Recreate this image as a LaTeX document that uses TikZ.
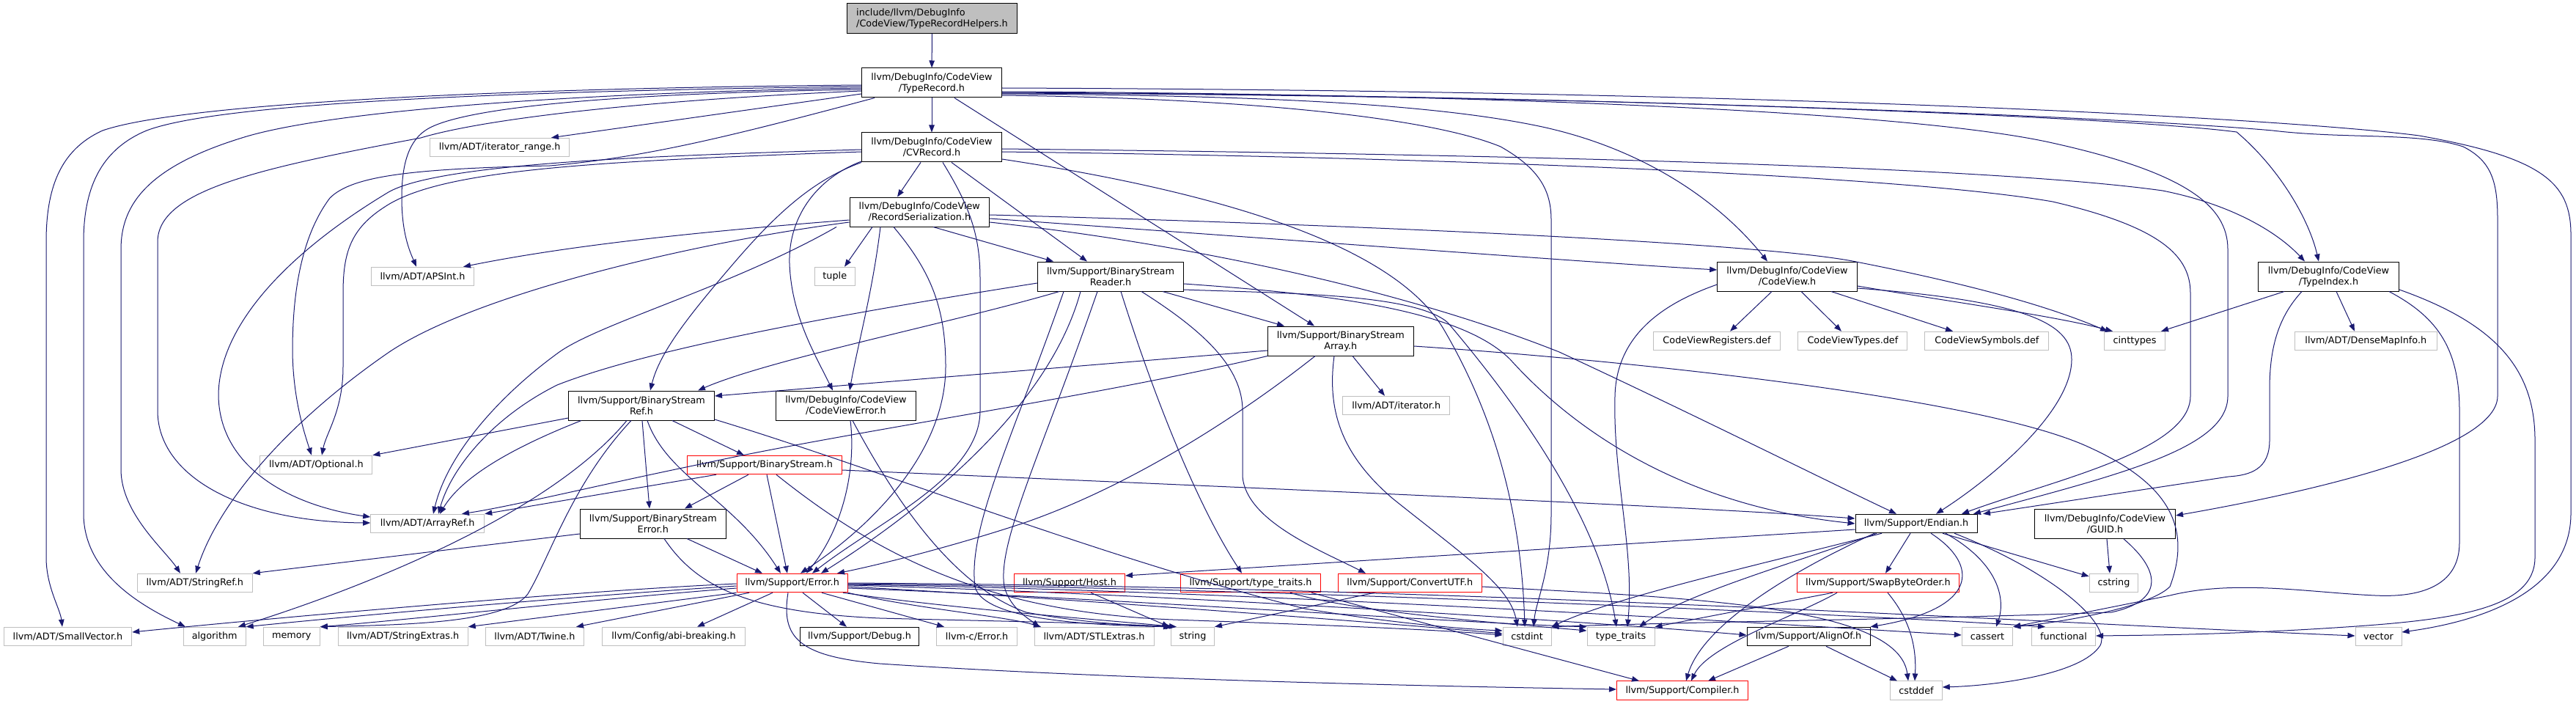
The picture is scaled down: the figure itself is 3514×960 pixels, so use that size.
\documentclass[tikz,border=0pt]{standalone}
\usepackage{fontspec}
\setmainfont{DejaVu Sans}
\usetikzlibrary{arrows.meta}
\definecolor{edgecol}{HTML}{191970}
\definecolor{grayb}{HTML}{BFBFBF}
\begin{document}
\begin{tikzpicture}[x=1pt,y=-1pt,
  nd/.style={draw=black, line width=1pt, fill=white, inner sep=0pt, align=center, font=\fontsize{12.8}{15}\selectfont},
  gn/.style={nd, draw=grayb},
  rn/.style={nd, draw=red},
  two/.style={minimum height=40},
  one/.style={minimum height=25.5},
  edg/.style={draw=edgecol, line width=1pt, -{Triangle[length=10pt,width=7.5pt]}},
]
\fill[white] (0,0) rectangle (3514,960);
\useasboundingbox (0,0) rectangle (3514,960);

% ---------- nodes ----------
\node[nd, fill=grayb, align=left, minimum width=232, minimum height=40.6] (top) at (1271.5,25) {include/llvm/DebugInfo\\/CodeView/TypeRecordHelpers.h};
\node[nd, two, minimum width=191] (TR) at (1271,113) {llvm/DebugInfo/CodeView\\/TypeRecord.h};
\node[nd, two, minimum width=191] (CVR) at (1271,201) {llvm/DebugInfo/CodeView\\/CVRecord.h};
\node[nd, two, minimum width=190.6] (RS) at (1254.3,289) {llvm/DebugInfo/CodeView\\/RecordSerialization.h};
\node[gn, one, minimum width=55] (tuple) at (1138.8,377) {tuple};
\node[nd, two, minimum width=199] (BSR) at (1515,377) {llvm/Support/BinaryStream\\Reader.h};
\node[nd, two, minimum width=199] (BSA) at (1828.8,465) {llvm/Support/BinaryStream\\Array.h};
\node[nd, two, minimum width=190.6] (CV) at (2438,377) {llvm/DebugInfo/CodeView\\/CodeView.h};
\node[gn, one, minimum width=173] (CVReg) at (2342,465) {CodeViewRegisters.def};
\node[gn, one, minimum width=149] (CVTyp) at (2527.4,465) {CodeViewTypes.def};
\node[gn, one, minimum width=169] (CVSym) at (2710.4,465) {CodeViewSymbols.def};
\node[gn, one, minimum width=83] (cint) at (2912,465) {cinttypes};
\node[nd, two, minimum width=192] (TI) at (3176.5,377) {llvm/DebugInfo/CodeView\\/TypeIndex.h};
\node[gn, one, minimum width=194] (DMI) at (3227.3,465) {llvm/ADT/DenseMapInfo.h};
\node[gn, one, minimum width=190] (itr) at (681.6,201) {llvm/ADT/iterator\_range.h};
\node[gn, one, minimum width=139.5] (APS) at (576.5,377) {llvm/ADT/APSInt.h};
\node[gn, one, minimum width=153] (Opt) at (431.4,634) {llvm/ADT/Optional.h};
\node[gn, one, minimum width=155] (AR) at (583.2,714) {llvm/ADT/ArrayRef.h};
\node[gn, one, minimum width=157] (SR) at (265.8,795) {llvm/ADT/StringRef.h};
\node[gn, one, minimum width=174.5] (SV) at (92.5,868) {llvm/ADT/SmallVector.h};
\node[gn, one, minimum width=85] (algo) at (292.7,868) {algorithm};
\node[gn, one, minimum width=77] (mem) at (397.8,868) {memory};
\node[gn, one, minimum width=177] (SE) at (549.7,868) {llvm/ADT/StringExtras.h};
\node[gn, one, minimum width=134] (Tw) at (729.5,868) {llvm/ADT/Twine.h};
\node[gn, one, minimum width=195] (abi) at (919,868) {llvm/Config/abi-breaking.h};
\node[nd, two, minimum width=199] (BSRef) at (875,553) {llvm/Support/BinaryStream\\Ref.h};
\node[nd, two, minimum width=199] (BSE) at (890.8,714) {llvm/Support/BinaryStream\\Error.h};
\node[nd, two, minimum width=191] (CVE) at (1154,553) {llvm/DebugInfo/CodeView\\/CodeViewError.h};
\node[rn, one, minimum width=211] (BS) at (1043,634) {llvm/Support/BinaryStream.h};
\node[rn, one, minimum width=151] (Err) at (1080.6,795) {llvm/Support/Error.h};
\node[rn, one, minimum width=151] (Host) at (1459,795) {llvm/Support/Host.h};
\node[rn, one, minimum width=190.6] (ttH) at (1706,795) {llvm/Support/type\_traits.h};
\node[nd, one, minimum width=162.5] (Dbg) at (1172.5,868) {llvm/Support/Debug.h};
\node[gn, one, minimum width=110] (cErr) at (1332.6,868) {llvm-c/Error.h};
\node[gn, one, minimum width=163] (STL) at (1492.5,868) {llvm/ADT/STLExtras.h};
\node[gn, one, minimum width=59] (str) at (1627,868) {string};
\node[gn, one, minimum width=146] (iter) at (1904.7,553) {llvm/ADT/iterator.h};
\node[nd, one, minimum width=166] (End) at (2614,714) {llvm/Support/Endian.h};
\node[rn, one, minimum width=196] (CUTF) at (1923.3,795) {llvm/Support/ConvertUTF.h};
\node[rn, one, minimum width=221] (SBO) at (2562,795) {llvm/Support/SwapByteOrder.h};
\node[gn, one, minimum width=66] (cstdint) at (2083,868) {cstdint};
\node[gn, one, minimum width=92] (tt) at (2211,868) {type\_traits};
\node[nd, one, minimum width=168] (Align) at (2467,868) {llvm/Support/AlignOf.h};
\node[gn, one, minimum width=69.5] (cas) at (2711,868) {cassert};
\node[rn, one, minimum width=179] (Comp) at (2295,941.7) {llvm/Support/Compiler.h};
\node[gn, one, minimum width=70.5] (cdef) at (2614,941.7) {cstddef};
\node[nd, two, minimum width=192] (GUID) at (2871.5,714.5) {llvm/DebugInfo/CodeView\\/GUID.h};
\node[gn, one, minimum width=66.6] (cstr) at (2883.5,795) {cstring};
\node[gn, one, minimum width=87] (func) at (2815,868) {functional};
\node[gn, one, minimum width=63] (vec) at (3244.5,868) {vector};

% ---------- edges ----------
\draw[edg] (top) -- (TR);
% TypeRecord.h
\draw[edg] (TR) -- (CVR);
\draw[edg] (TR.west |- 0,116) .. controls (700,120) and (250,140) .. (140,178) .. controls (80,205) and (63,260) .. (63,330) -- (63,760) .. controls (63,800) and (82,830) .. (SV.north -| 85,0);
\draw[edg] (TR.west |- 0,118) .. controls (700,124) and (300,140) .. (200,178) .. controls (135,205) and (114,260) .. (114,330) -- (114,700) .. controls (114,780) and (190,825) .. (algo.north -| 253,0);
\draw[edg] (TR.west |- 0,120) .. controls (800,126) and (450,150) .. (330,188) .. controls (200,228) and (165,280) .. (165,340) -- (165,640) .. controls (165,700) and (225,750) .. (SR.north -| 246,0);
\draw[edg] (TR.west |- 0,124) .. controls (850,138) and (650,165) .. (574,188) .. controls (350,230) and (215,260) .. (215,330) -- (215,560) .. controls (215,650) and (330,712) .. (AR.west |- 0,713);
\draw[edg] (TR.west |- 0,122) .. controls (800,128) and (620,150) .. (580,178) .. controls (555,195) and (548,230) .. (548,270) .. controls (548,320) and (560,345) .. (APS.north -| 568,0);
\draw[edg] (TR.west |- 0,128) -- (itr.north -| 752,0);
\draw[edg] (TR.south -| 1193,0) .. controls (1000,185) and (880,215) .. (750,226) .. controls (560,230) and (480,240) .. (450,270) .. controls (405,330) and (399,420) .. (399,480) .. controls (400,545) and (415,590) .. (Opt.north -| 425,0);
\draw[edg] (TR.east |- 0,128) .. controls (1700,130) and (1950,140) .. (2104,173) .. controls (2250,205) and (2350,280) .. (CV.north -| 2411,0);
\draw[edg] (TR.east |- 0,130) .. controls (1700,134) and (1950,160) .. (2047,200) .. controls (2100,230) and (2116,260) .. (2116,300) -- (2116,700) .. controls (2116,780) and (2095,820) .. (cstdint.north -| 2092,0);
\draw[edg] (TR.south -| 1302,0) -- (BSA.north -| 1793,0);
\draw[edg] (TR.east |- 0,125) .. controls (2000,128) and (2600,150) .. (2800,195) .. controls (2980,235) and (3039,280) .. (3039,340) -- (3039,540) .. controls (3039,610) and (2900,645) .. (End.north -| 2692,0);
\draw[edg] (TR.east |- 0,126) .. controls (2200,130) and (2900,160) .. (3051,180) .. controls (3110,230) and (3150,300) .. (TI.north -| 3163,0);
\draw[edg] (TR.east |- 0,127) .. controls (2200,130) and (2900,160) .. (3100,178) .. controls (3200,190) and (3300,180) .. (3360,200) .. controls (3400,220) and (3407,250) .. (3407,300) -- (3407,540) .. controls (3407,620) and (3100,680) .. (GUID.east |- 0,703);
\draw[edg] (TR.east |- 0,120) .. controls (2500,124) and (3150,165) .. (3300,185) .. controls (3470,215) and (3507,250) .. (3507,320) -- (3507,700) .. controls (3507,800) and (3400,845) .. (vec.east |- 0,862);
% CVRecord.h
\draw[edg] (CVR.south -| 1256,0) -- (RS.north -| 1224,0);
\draw[edg] (CVR.west |- 0,204) .. controls (900,212) and (600,222) .. (530,262) .. controls (400,340) and (298,440) .. (298,540) .. controls (300,640) and (400,690) .. (AR.west |- 0,705);
\draw[edg] (CVR.west |- 0,207) .. controls (800,220) and (600,232) .. (525,282) .. controls (478,312) and (468,345) .. (468,400) -- (468,500) .. controls (468,560) and (445,590) .. (Opt.north -| 439,0);
\draw[edg] (CVR.south west) .. controls (1110,245) and (1060,290) .. (1000,360) .. controls (940,430) and (900,480) .. (BSRef.north -| 887,0);
\draw[edg] (CVR.west |- 0,220) .. controls (1110,245) and (1075,300) .. (1077,360) .. controls (1080,430) and (1110,480) .. (CVE.north -| 1136,0);
\draw[edg] (CVR.south -| 1298,0) -- (BSR.north -| 1483,0);
\draw[edg] (CVR.south -| 1286,0) .. controls (1322,280) and (1337,320) .. (1337,380) -- (1337,560) .. controls (1337,650) and (1200,710) .. (Err.north -| 1108,0);
\draw[edg] (CVR.east |- 0,217) .. controls (1650,260) and (1900,330) .. (1970,450) .. controls (2040,570) and (2075,700) .. (cstdint.north -| 2080,0);
\draw[edg] (CVR.east |- 0,203) .. controls (2000,210) and (2700,225) .. (2950,260) .. controls (3050,280) and (3110,320) .. (TI.north -| 3144,0);
\draw[edg] (CVR.east |- 0,207) .. controls (2000,215) and (2600,240) .. (2800,275) .. controls (2950,310) and (2988,350) .. (2988,400) -- (2988,540) .. controls (2988,615) and (2800,655) .. (End.north -| 2676,0);
% RecordSerialization.h
\draw[edg] (RS.south -| 1190,0) -- (tuple.north -| 1152,0);
\draw[edg] (RS.south -| 1201,0) .. controls (1190,400) and (1170,470) .. (CVE.north -| 1159,0);
\draw[edg] (RS.south -| 1219,0) .. controls (1270,370) and (1290,420) .. (1290,500) .. controls (1290,610) and (1200,710) .. (Err.north -| 1092,0);
\draw[edg] (RS.south -| 1273,0) -- (BSR.north -| 1437,0);
\draw[edg] (RS.west |- 0,300) .. controls (900,320) and (750,340) .. (APS.north -| 632,0);
\draw[edg] (RS.west |- 0,303) .. controls (950,330) and (650,400) .. (531,480) .. controls (400,570) and (300,680) .. (SR.north -| 267,0);
\draw[edg] (RS.south -| 1141,0) .. controls (1000,390) and (820,440) .. (763,480) .. controls (680,540) and (610,620) .. (AR.north -| 591,0);
\draw[edg] (RS.east |- 0,293) .. controls (1800,305) and (2400,330) .. (2532,357) .. controls (2700,390) and (2800,420) .. (cint.north -| 2875,0);
\draw[edg] (RS.east |- 0,298) .. controls (1800,330) and (2200,360) .. (CV.west |- 0,368);
\draw[edg] (RS.east |- 0,303) .. controls (1600,330) and (1900,390) .. (2127,480) .. controls (2300,560) and (2500,660) .. (End.north -| 2587,0);
% CodeView.h
\draw[edg] (CV.south -| 2417,0) -- (CVReg.north -| 2360,0);
\draw[edg] (CV.south -| 2457,0) -- (CVTyp.north -| 2512,0);
\draw[edg] (CV.south -| 2498,0) -- (CVSym.north -| 2664,0);
\draw[edg] (CV.east |- 0,390) .. controls (2650,410) and (2800,430) .. (cint.north -| 2882,0);
\draw[edg] (CV.east |- 0,393) .. controls (2760,410) and (2826,440) .. (2826,490) .. controls (2826,560) and (2720,650) .. (End.north -| 2641,0);
\draw[edg] (CV.west |- 0,388) .. controls (2280,410) and (2205,450) .. (2203,540) .. controls (2200,650) and (2230,750) .. (tt.north -| 2220,0);
% TypeIndex.h
\draw[edg] (TI.south -| 3116,0) -- (cint.north -| 2948,0);
\draw[edg] (TI.south -| 3187,0) -- (DMI.north -| 3212,0);
\draw[edg] (TI.south -| 3140,0) .. controls (3110,430) and (3096,470) .. (3096,530) -- (3096,600) .. controls (3096,640) and (3070,648) .. (3040,650) -- (End.north -| 2705,0);
\draw[edg] (TI.south -| 3259,0) .. controls (3320,430) and (3355,470) .. (3355,560) -- (3355,740) .. controls (3355,800) and (3300,815) .. (3240,812) .. controls (3150,808) and (3050,790) .. (2960,812) -- (cas.north east);
\draw[edg] (TI.east |- 0,395) .. controls (3400,440) and (3458,500) .. (3458,600) -- (3458,760) .. controls (3458,830) and (3350,845) .. (3200,855) .. controls (3050,865) and (2950,866) .. (func.east |- 0,867);
% GUID.h
\draw[edg] (GUID.south -| 2874,0) -- (cstr.north -| 2878,0);
\draw[edg] (GUID.south -| 2897,0) .. controls (2950,780) and (2950,820) .. (2880,835) .. controls (2600,845) and (2300,848) .. (cstdint.north east);
% Endian.h
\draw[edg] (End.west |- 0,722) -- (Host.east |- 0,785);
\draw[edg] (End.south -| 2606,0) -- (SBO.north -| 2572,0);
\draw[edg] (End.south -| 2634,0) .. controls (2700,770) and (2700,830) .. (Align.north east);
\draw[edg] (End.south -| 2654,0) .. controls (2730,770) and (2735,820) .. (cas.north -| 2723,0);
\draw[edg] (End.south -| 2650,0) -- (cstr.west |- 0,786);
\draw[edg] (End.south -| 2666,0) .. controls (2800,780) and (2880,850) .. (2865,880) .. controls (2840,920) and (2720,935) .. (cdef.east |- 0,937);
\draw[edg] (End.south -| 2567,0) .. controls (2400,770) and (2200,815) .. (cstdint.north east);
\draw[edg] (End.south -| 2560,0) .. controls (2440,770) and (2300,810) .. (tt.north -| 2236,0);
\draw[edg] (End.south -| 2557,0) .. controls (2420,790) and (2320,860) .. (Comp.north -| 2300,0);
% SwapByteOrder.h
\draw[edg] (SBO.south -| 2506,0) .. controls (2450,840) and (2330,880) .. (Comp.north -| 2307,0);
\draw[edg] (SBO.south -| 2500,0) -- (tt.north east);
\draw[edg] (SBO.south -| 2575,0) .. controls (2610,850) and (2614,890) .. (cdef.north -| 2612,0);
% AlignOf.h
\draw[edg] (Align.south -| 2440,0) -- (Comp.north -| 2330,0);
\draw[edg] (Align.south -| 2491,0) -- (cdef.north -| 2588,0);
% type_traits.h
\draw[edg] (ttH.south -| 1789,0) -- (Comp.north -| 2236,0);
\draw[edg] (ttH.south -| 1760,0) .. controls (1850,835) and (2050,850) .. (tt.west |- 0,860);
% Host.h, ConvertUTF.h
\draw[edg] (Host.south -| 1488,0) -- (str.north -| 1595,0);
\draw[edg] (CUTF.south -| 1875,0) -- (str.north east);
\draw[edg] (CUTF.east |- 0,800) .. controls (2300,815) and (2590,825) .. (cdef.north -| 2603,0);
% BinaryStreamArray.h
\draw[edg] (BSA.south -| 1845,0) -- (iter.north -| 1889,0);
\draw[edg] (BSA.west |- 0,478) -- (BSRef.east |- 0,540);
\draw[edg] (BSA.south west) .. controls (1500,540) and (1150,590) .. (960,632) .. controls (800,665) and (700,690) .. (AR.north -| 630,0);
\draw[edg] (BSA.south -| 1794,0) .. controls (1700,560) and (1550,660) .. (1397,713) .. controls (1300,745) and (1200,770) .. (Err.north -| 1142,0);
\draw[edg] (BSA.south -| 1820,0) .. controls (1810,560) and (1830,620) .. (1900,680) .. controls (2000,760) and (2060,800) .. (cstdint.north -| 2070,0);
\draw[edg] (BSA.east |- 0,472) .. controls (2200,490) and (2700,540) .. (2850,610) .. controls (2960,660) and (2990,720) .. (2960,800) .. controls (2930,830) and (2800,850) .. (cas.north east);
% BinaryStreamRef.h
\draw[edg] (BSRef.west |- 0,570) -- (Opt.north east);
\draw[edg] (BSRef.south -| 793,0) .. controls (700,610) and (630,650) .. (AR.north -| 600,0);
\draw[edg] (BSRef.south -| 855,0) .. controls (750,700) and (500,800) .. (algo.north -| 325,0);
\draw[edg] (BSRef.south -| 861,0) .. controls (780,660) and (750,760) .. (720,810) .. controls (690,850) and (550,852) .. (mem.north east);
\draw[edg] (BSRef.south -| 876,0) -- (BSE.north -| 886,0);
\draw[edg] (BSRef.south -| 917,0) -- (BS.north -| 1015,0);
\draw[edg] (BSRef.south -| 883,0) .. controls (910,650) and (1000,680) .. (Err.north -| 1065,0);
\draw[edg] (BSRef.east |- 0,572) .. controls (1200,640) and (1500,760) .. (1780,830) .. controls (1900,850) and (2000,858) .. (cstdint.west |- 0,860);
% BinaryStream.h
\draw[edg] (BS.south -| 977,0) -- (AR.north east);
\draw[edg] (BS.south -| 1021,0) -- (BSE.north -| 934,0);
\draw[edg] (BS.south -| 1046,0) -- (Err.north -| 1074,0);
\draw[edg] (BS.south -| 1059,0) .. controls (1200,760) and (1350,835) .. (1600,845) .. controls (1800,852) and (1950,858) .. (cstdint.west |- 0,866);
\draw[edg] (BS.east |- 0,641) .. controls (1700,665) and (2300,690) .. (End.west |- 0,707);
% BinaryStreamError.h
\draw[edg] (BSE.west |- 0,728) -- (SR.north east);
\draw[edg] (BSE.south -| 937,0) -- (Err.north -| 1040,0);
\draw[edg] (BSE.south -| 906,0) .. controls (950,800) and (1020,835) .. (1200,843) .. controls (1400,848) and (1520,850) .. (str.north west);
% CodeViewError.h
\draw[edg] (CVE.south -| 1160,0) .. controls (1168,640) and (1150,720) .. (Err.north -| 1100,0);
\draw[edg] (CVE.south -| 1163,0) .. controls (1220,680) and (1300,800) .. (1400,835) .. controls (1480,850) and (1550,853) .. (str.north -| 1600,0);
% Error.h
\draw[edg] (Err.west |- 0,796) .. controls (800,805) and (400,840) .. (SV.east |- 0,862);
\draw[edg] (Err.west |- 0,799) .. controls (800,812) and (500,838) .. (algo.north east);
\draw[edg] (Err.west |- 0,802) .. controls (800,818) and (560,845) .. (mem.north east);
\draw[edg] (Err.south west) -- (SE.north east);
\draw[edg] (Err.south -| 1022,0) -- (Tw.north -| 786,0);
\draw[edg] (Err.south -| 1054,0) -- (abi.north -| 951,0);
\draw[edg] (Err.south -| 1095,0) -- (Dbg.north -| 1155,0);
\draw[edg] (Err.south -| 1121,0) -- (cErr.north -| 1288,0);
\draw[edg] (Err.south east) .. controls (1250,830) and (1370,840) .. (STL.north -| 1420,0);
\draw[edg] (Err.south -| 1150,0) .. controls (1300,830) and (1500,845) .. (str.north -| 1605,0);
\draw[edg] (Err.east |- 0,800) .. controls (1400,812) and (1900,850) .. (cstdint.west |- 0,864);
\draw[edg] (Err.east |- 0,802) .. controls (1500,815) and (2000,850) .. (tt.north west);
\draw[edg] (Err.east |- 0,798) .. controls (1600,810) and (2200,850) .. (Align.west |- 0,866);
\draw[edg] (Err.east |- 0,797) .. controls (1700,805) and (2400,850) .. (cas.west |- 0,866);
\draw[edg] (Err.east |- 0,796) .. controls (1800,803) and (2600,842) .. (func.north -| 2790,0);
\draw[edg] (Err.east |- 0,795) .. controls (2000,800) and (2800,850) .. (vec.west |- 0,867);
\draw[edg] (Err.south -| 1075,0) .. controls (1065,870) and (1090,895) .. (1200,905) .. controls (1500,925) and (1900,935) .. (Comp.west |- 0,940);
% BinaryStreamReader.h
\draw[edg] (BSR.south -| 1586,0) -- (BSA.north -| 1752,0);
\draw[edg] (BSR.west |- 0,386) .. controls (1200,420) and (900,470) .. (760,525) .. controls (670,570) and (615,640) .. (AR.north -| 598,0);
\draw[edg] (BSR.south -| 1445,0) .. controls (1300,440) and (1050,490) .. (BSRef.north -| 952,0);
\draw[edg] (BSR.south -| 1474,0) .. controls (1430,560) and (1250,700) .. (Err.north -| 1120,0);
\draw[edg] (BSR.south -| 1497,0) .. controls (1420,620) and (1360,740) .. (1370,800) .. controls (1378,830) and (1405,845) .. (STL.north -| 1418,0);
\draw[edg] (BSR.south -| 1451,0) .. controls (1380,600) and (1320,720) .. (1330,800) .. controls (1340,840) and (1450,852) .. (str.north west);
\draw[edg] (BSR.south -| 1529,0) .. controls (1580,560) and (1640,700) .. (ttH.north -| 1694,0);
\draw[edg] (BSR.south -| 1557,0) .. controls (1640,450) and (1695,500) .. (1695,560) -- (1695,650) .. controls (1700,710) and (1800,750) .. (CUTF.north -| 1863,0);
\draw[edg] (BSR.east |- 0,387) .. controls (1800,400) and (1990,420) .. (2060,490) .. controls (2150,590) and (2300,690) .. (End.west |- 0,714);
\draw[edg] (BSR.east |- 0,395) .. controls (1750,400) and (1930,400) .. (1975,440) .. controls (2060,540) and (2180,700) .. (tt.north -| 2205,0);
\end{tikzpicture}
\end{document}
